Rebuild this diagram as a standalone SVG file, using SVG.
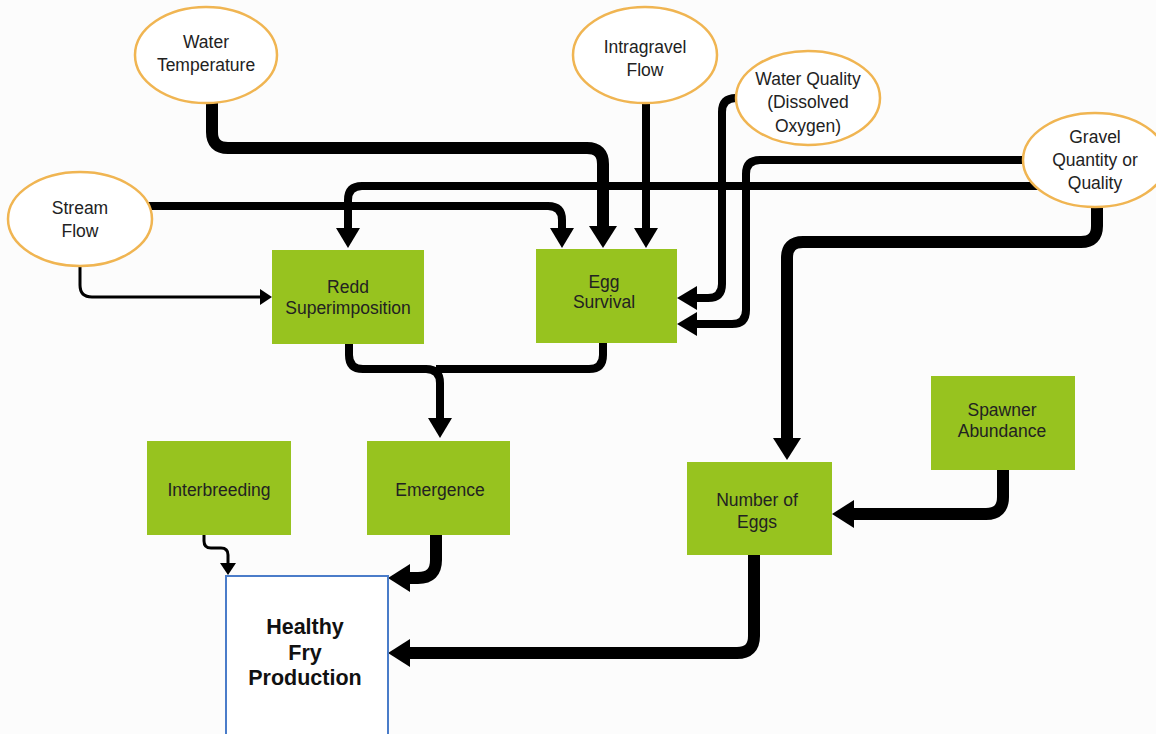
<svg xmlns="http://www.w3.org/2000/svg" width="1156" height="734" viewBox="0 0 1156 734">
<style>
.bg{fill:#fcfcfc}
.oval{fill:#ffffff;stroke:#f0b552;stroke-width:2.5}
.box{fill:#97c31f}
.out{fill:#ffffff;stroke:#4a7cc9;stroke-width:2}
text{font-family:"Liberation Sans",Arial,sans-serif;font-size:17.5px;fill:#222222;text-anchor:middle}
.bold{font-weight:bold;font-size:21.5px;fill:#111111}
.c{fill:none;stroke:#000000;stroke-linejoin:round}
.w12{stroke-width:12}
.w8{stroke-width:8}
.w3{stroke-width:3}
</style>
<defs>
<marker id="big" markerUnits="userSpaceOnUse" markerWidth="24" markerHeight="28" refX="0" refY="14" orient="auto" overflow="visible"><path d="M0,0 L22,14 L0,28 z" fill="#000"/></marker>
<marker id="med" markerUnits="userSpaceOnUse" markerWidth="22" markerHeight="24" refX="0" refY="12" orient="auto" overflow="visible"><path d="M0,0 L20,12 L0,24 z" fill="#000"/></marker>
<marker id="sm" markerUnits="userSpaceOnUse" markerWidth="14" markerHeight="16" refX="0" refY="8" orient="auto" overflow="visible"><path d="M0,0 L12,8 L0,16 z" fill="#000"/></marker>
</defs>
<rect class="bg" x="0" y="0" width="1156" height="734"/>
<g id="connectors">
<path class="c w12" d="M212,100 V132 Q212,148 228,148 H587 Q603,148 603,164 V226" marker-end="url(#big)"/>
<path class="c w8" d="M140,206 H548 Q562,206 562,220 V228" marker-end="url(#med)"/>
<path class="c w8" d="M1050,186 H362 Q348,186 348,200 V228" marker-end="url(#med)"/>
<path class="c w8" d="M1050,160 H760 Q746,160 746,174 V310 Q746,324 732,324 H697" marker-end="url(#med)"/>
<path class="c w8" d="M745,98 H736 Q722,98 722,112 V284 Q722,298 708,298 H697" marker-end="url(#med)"/>
<path class="c w8" d="M646,100 V228" marker-end="url(#med)"/>
<path class="c w3" d="M80,262 V285 Q80,297 92,297 H260" marker-end="url(#sm)"/>
<path class="c w8" d="M349,340 V355 Q349,369 363,369 H426 Q440,369 440,383 V418" marker-end="url(#med)"/>
<path class="c w8" d="M603,340 V355 Q603,369 589,369 H436"/>
<path class="c w3" d="M204,533 V541 Q204,548 211,548 H221 Q228,548 228,555 V563" marker-end="url(#sm)"/>
<path class="c w12" d="M436,533 V560 Q436,578 418,578 H410" marker-end="url(#big)"/>
<path class="c w12" d="M754,553 V636 Q754,653 737,653 H410" marker-end="url(#big)"/>
<path class="c w12" d="M1003,468 V497 Q1003,514 986,514 H854" marker-end="url(#big)"/>
<path class="c w12" d="M1097,200 V226 Q1097,242 1081,242 H803 Q787,242 787,258 V438" marker-end="url(#big)"/>
</g>
<g id="water-temperature"><ellipse class="oval" cx="206" cy="55" rx="71" ry="48"/><text x="206" y="48">Water</text><text x="206" y="71">Temperature</text></g>
<g id="stream-flow"><ellipse class="oval" cx="80" cy="219" rx="72" ry="47"/><text x="80" y="214">Stream</text><text x="80" y="237">Flow</text></g>
<g id="intragravel-flow"><ellipse class="oval" cx="645" cy="55" rx="72" ry="48"/><text x="645" y="53">Intragravel</text><text x="645" y="76">Flow</text></g>
<g id="water-quality"><ellipse class="oval" cx="808" cy="98" rx="72" ry="47"/><text x="808" y="85">Water Quality</text><text x="808" y="108">(Dissolved</text><text x="808" y="132">Oxygen)</text></g>
<g id="gravel"><ellipse class="oval" cx="1095" cy="160" rx="72" ry="47"/><text x="1095" y="143">Gravel</text><text x="1095" y="166">Quantity or</text><text x="1095" y="189">Quality</text></g>
<g id="redd"><rect class="box" x="272" y="250" width="152" height="94"/><text x="348" y="293">Redd</text><text x="348" y="314">Superimposition</text></g>
<g id="egg-survival"><rect class="box" x="536" y="249" width="141" height="94"/><text x="604" y="288">Egg</text><text x="604" y="308">Survival</text></g>
<g id="interbreeding"><rect class="box" x="147" y="441" width="144" height="94"/><text x="219" y="496">Interbreeding</text></g>
<g id="emergence"><rect class="box" x="367" y="441" width="143" height="94"/><text x="440" y="496">Emergence</text></g>
<g id="number-of-eggs"><rect class="box" x="687" y="462" width="145" height="93"/><text x="757" y="506">Number of</text><text x="757" y="528">Eggs</text></g>
<g id="spawner"><rect class="box" x="931" y="376" width="144" height="94"/><text x="1002" y="416">Spawner</text><text x="1002" y="437">Abundance</text></g>
<g id="healthy-fry"><rect class="out" x="226" y="576" width="162" height="170"/><text class="bold" x="305" y="634">Healthy</text><text class="bold" x="305" y="660">Fry</text><text class="bold" x="305" y="685">Production</text></g>
</svg>
